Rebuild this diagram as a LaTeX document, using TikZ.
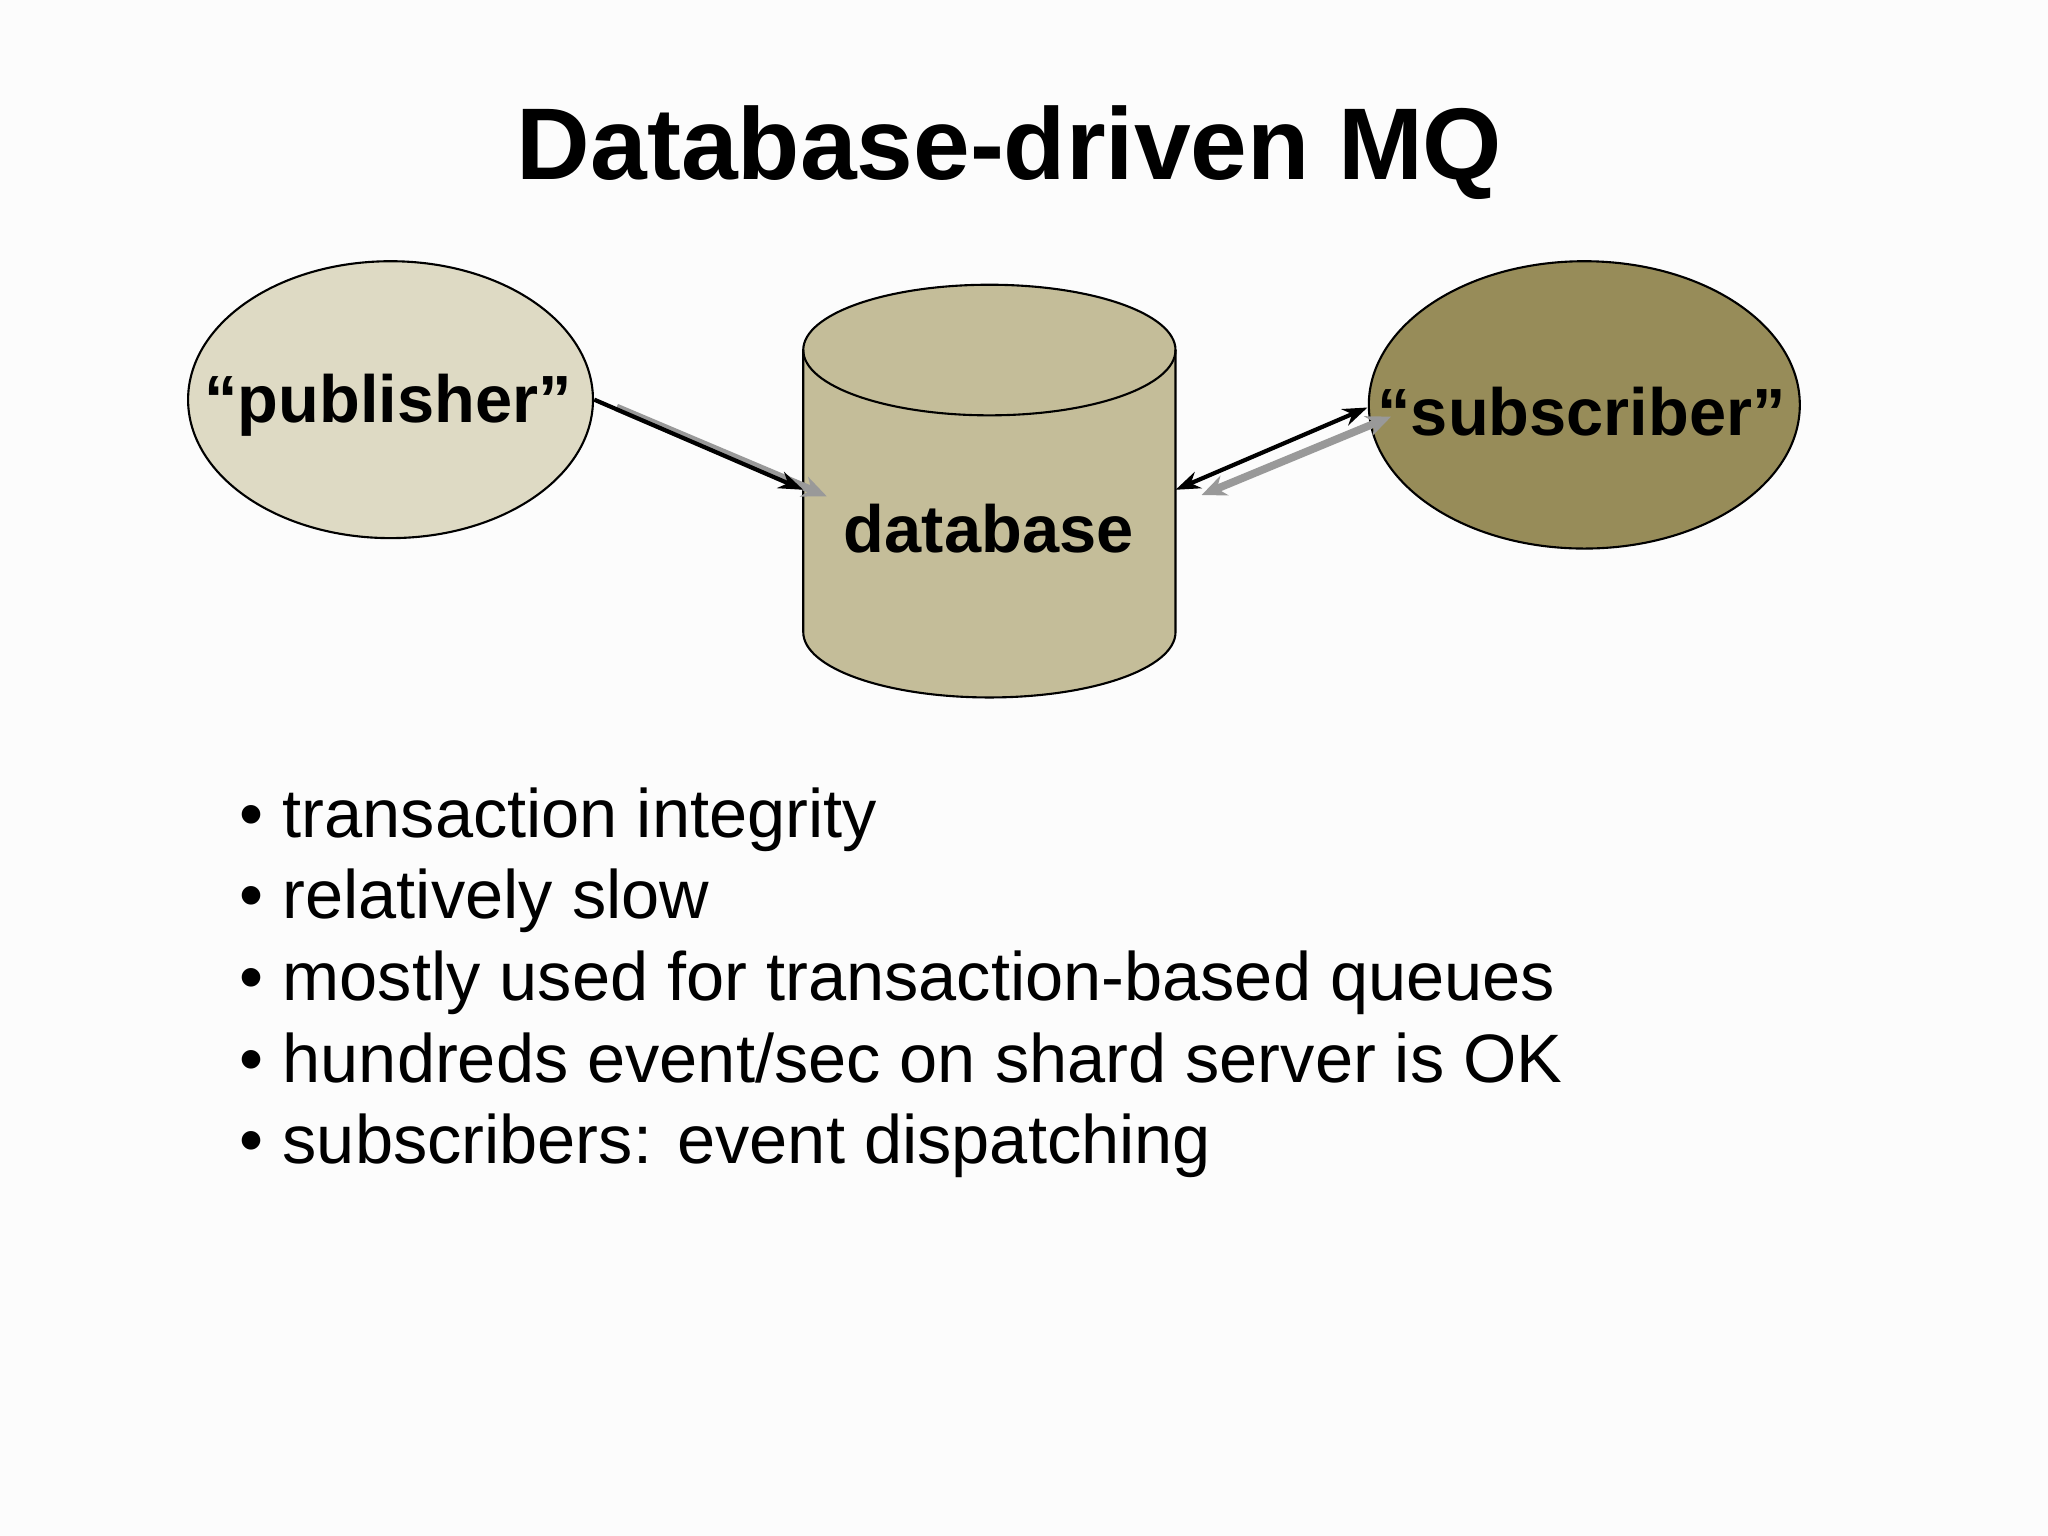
\documentclass[tikz,border=0pt]{standalone}
\usepackage{fontspec}
\setmainfont{Liberation Sans}
\usetikzlibrary{shapes.geometric,arrows.meta}
\definecolor{bg}{HTML}{FCFCFC}
\definecolor{pubc}{HTML}{DEDAC4}
\definecolor{dbc}{HTML}{C4BD99}
\definecolor{subc}{HTML}{978C59}
\tikzset{
  ell/.style={ellipse,draw=black,line width=0.6pt,inner sep=0pt},
  lbl/.style={font=\bfseries\fontsize{19}{22}\selectfont},
  arr/.style={line width=1.2pt,-{Stealth[length=7pt,width=5pt]}},
  sharr/.style={line width=2.2pt,draw=black!40,-{Stealth[length=7pt,width=6pt]}},
  bul/.style={anchor=base west,font=\fontsize{19.5}{22}\selectfont,inner sep=0pt}
}
\begin{document}
\begin{tikzpicture}[x=0.013061cm,y=-0.013061cm]
\fill[bg] (0,0) rectangle (1568,1176);
\useasboundingbox (0,0) rectangle (1568,1176);
\node[font=\bfseries\fontsize{29}{34}\selectfont] (title) at (773,117) {Database-driven MQ};
\node[ell,fill=pubc,minimum width=310*0.013061cm,minimum height=212*0.013061cm] (pub) at (299,306) {};
\node[lbl] (publbl) at (297,310) {``publisher''};
\node[ell,fill=subc,minimum width=330*0.013061cm,minimum height=220*0.013061cm] (sub) at (1213,310) {};
\node[lbl] (sublbl) at (1211,315) {``subscriber''};
% cylinder
\filldraw[fill=dbc,draw=black,line width=0.6pt] (615,268) -- (615,484) arc[start angle=180,end angle=0,x radius=142.5,y radius=50] -- (900,268) arc[start angle=0,end angle=-180,x radius=142.5,y radius=50] -- cycle;
\draw[line width=0.6pt] (615,268) arc[start angle=180,end angle=0,x radius=142.5,y radius=50];
\node[lbl] (db) at (757,405) {database};
\coordinate (dbl) at (615,375);
\coordinate (dbr) at (900,375);
\coordinate (pubr) at (455,306);
\coordinate (subl) at (1047,312);
% shadows
\coordinate (s1) at (472,312); \coordinate (s2) at (633,380);
\coordinate (s3) at (920,379); \coordinate (s4) at (1065,319);
\draw[sharr] (s1) -- (s2);
\draw[sharr,{Stealth[length=7pt,width=6pt]}-{Stealth[length=7pt,width=6pt]}] (s3) -- (s4);
\draw[arr] (pubr) -- (dbl);
\draw[arr,{Stealth[length=7pt,width=5pt]}-{Stealth[length=7pt,width=5pt]}] (dbr) -- (subl);
% bullets
\foreach \t [count=\i] in {transaction integrity,relatively slow,mostly used for transaction-based queues,hundreds event/sec on shard server is OK,subscribers: event dispatching}{
  \node[bul] (b\i) at (183,641+62.5*\i-62.5) {\textbullet\ \t};
}
\end{tikzpicture}
\end{document}
